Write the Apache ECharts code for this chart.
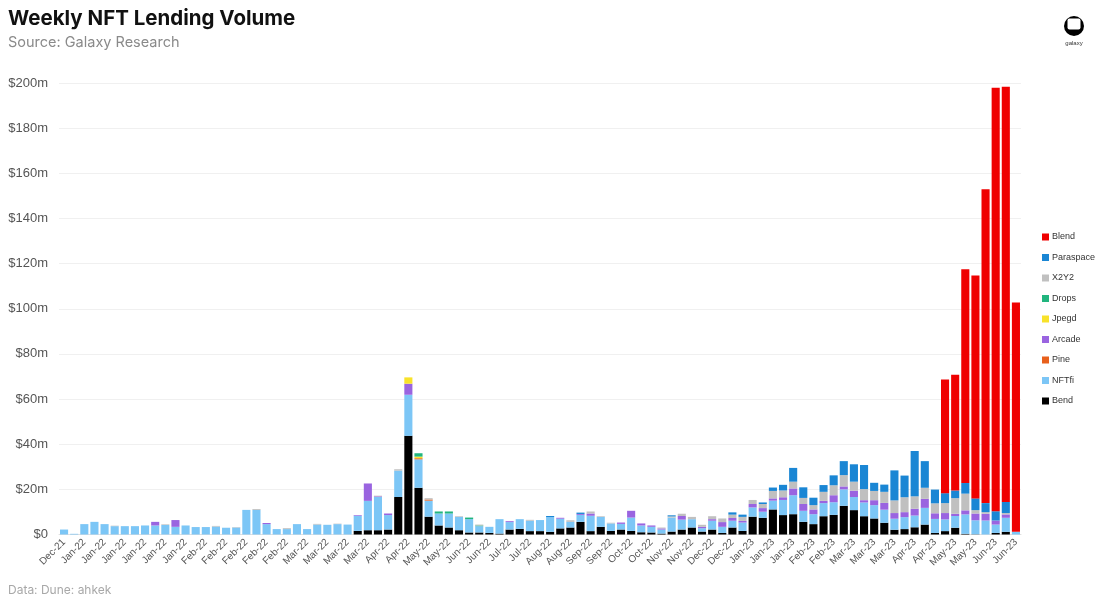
<!DOCTYPE html>
<html>
<head>
<meta charset="utf-8">
<script src="https://cdn.jsdelivr.net/npm/echarts@6/dist/echarts.min.js"></script>
<style>
html,body{margin:0;padding:0;background:#fff;}
#chart{width:1100px;height:601px;}
</style>
</head>
<body>
<div id="chart"></div>
<script>
// Tick labels (one every two weekly bars)
const tickLabels = [
  'Dec-21',
  'Jan-22','Jan-22','Jan-22','Jan-22','Jan-22','Jan-22',
  'Feb-22','Feb-22','Feb-22','Feb-22','Feb-22',
  'Mar-22','Mar-22','Mar-22','Mar-22',
  'Apr-22','Apr-22','May-22','May-22','Jun-22','Jun-22','Jul-22','Jul-22',
  'Aug-22','Aug-22','Sep-22','Sep-22','Oct-22','Oct-22','Nov-22','Nov-22',
  'Dec-22','Dec-22','Jan-23','Jan-23','Jan-23','Feb-23','Feb-23',
  'Mar-23','Mar-23','Mar-23','Apr-23','Apr-23','May-23','May-23','Jun-23','Jun-23'
];

// Weekly volumes, $m
const bend = [
  0,0,0,0,0,0,0,0,0,0,
  0,0,0,0,0,0,0,0,0,0,
  0,0,0,0,0,0,0,0,0,1.6,
  1.9,1.9,2.2,16.6,43.7,20.7,7.9,4.0,3.1,1.9,
  0.9,0.9,0.7,0.4,2.2,2.5,1.5,1.5,1.2,2.7,
  3.1,5.6,1.5,3.4,1.6,2.2,1.6,1.0,0.9,0.4,
  1.3,2.2,3.1,1.3,2.2,0.7,3.1,1.6,7.9,7.4,
  11.1,8.6,9.0,5.6,4.6,8.1,8.7,12.7,10.8,8.1,
  7.1,5.2,2.1,2.4,3.2,4.4,0.7,1.5,3.0,0.3,
  0.1,0,0.7,1.2,0
];
const nftfi = [
  2.2,0.3,4.6,5.6,4.6,3.7,3.7,3.7,4.0,4.0,
  4.2,3.4,4.0,3.3,3.3,3.5,3.0,3.1,10.9,10.9,
  4.6,2.4,2.4,4.6,2.4,4.4,4.3,4.6,4.4,6.7,
  13.0,14.7,6.4,11.7,18.2,12.6,7.1,5.3,6.2,5.9,
  5.9,2.8,2.7,6.4,3.3,4.3,4.6,4.9,6.5,4.3,
  2.5,3.1,6.8,4.4,3.3,2.5,5.9,3.0,2.5,1.8,
  6.2,4.4,3.7,1.5,3.9,2.7,3.0,3.7,4.1,2.7,
  3.9,6.7,8.4,4.9,4.4,5.8,5.6,7.3,5.8,6.1,
  5.9,5.8,4.9,5.3,5.2,7.4,6.2,5.2,5.2,8.6,
  6.2,6.2,3.7,6.2,1.2
];
const pine = [
  0,0,0,0,0,0,0,0,0,0,
  0,0,0,0,0,0,0,0,0,0,
  0,0,0,0,0,0,0,0,0,0,
  0,0,0,0,0,0.5,0.5,0,0,0,
  0,0,0,0,0,0,0,0,0,0,
  0,0,0,0,0,0,0,0,0,0,
  0,0,0,0,0,0,0,0,0,0,
  0,0,0,0,0,0,0,0,0,0,
  0,0,0,0,0,0,0,0,0,0,
  0,0,0,0,0
];
const arcade = [
  0,0,0,0,0,0,0,0,0,1.6,
  0,3.0,0,0,0,0,0,0,0,0,
  0.5,0,0,0,0,0,0,0,0,0.3,
  7.7,0.3,0.7,0,4.9,0,0,0,0,0,
  0,0,0,0,0.4,0,0,0,0,0.4,
  0,0.4,1.0,0,0,0.6,3.0,0.9,0.6,0.5,
  0,1.6,0,0.6,0.7,2.1,1.2,0.7,1.5,1.6,
  1.0,1.2,3.0,3.0,2.1,1.0,3.1,1.3,2.8,1.0,
  2.2,3.0,2.5,2.2,3.0,4.0,2.5,2.8,1.0,1.8,
  3.0,3.0,1.8,1.5,0
];
const jpegd = [
  0,0,0,0,0,0,0,0,0,0,
  0,0,0,0,0,0,0,0,0,0,
  0,0,0,0,0,0,0,0,0,0,
  0,0,0,0,2.8,0.7,0,0,0,0,
  0,0,0,0,0,0,0,0,0,0,
  0,0,0,0,0,0,0,0,0,0,
  0,0,0,0,0,0,0,0,0,0,
  0,0,0,0,0,0,0,0,0,0,
  0,0,0,0,0,0,0,0,0,0,
  0,0,0,0,0
];
const drops = [
  0,0,0,0,0,0,0,0,0,0,
  0,0,0,0,0,0,0,0,0,0,
  0,0,0,0,0,0,0,0,0,0,
  0,0,0,0,0,1.5,0,0.9,0.9,0,
  0.7,0.3,0,0,0,0,0,0,0,0,
  0,0,0,0,0,0,0,0,0,0,
  0,0,0,0,0,0,0,0,0,0,
  0,0,0,0,0,0,0,0,0,0,
  0,0,0,0,0,0,0,0,0,0,
  0,0,0,0,0
];
const x2y2 = [
  0,0,0,0,0,0.2,0,0,0,0,
  0.3,0,0,0,0,0.3,0,0.2,0,0.4,
  0,0,0.4,0,0,0.3,0,0.2,0,0,
  0,0.3,0,0.6,0,0,0.6,0,0,0.3,
  0,0.4,0,0,0,0,0.4,0,0,0,
  0.7,0,0.9,0.3,0.3,0,0,0,0,0.4,
  0.5,1.0,1.0,0.9,1.3,1.6,1.5,1.8,1.8,1.8,
  3.3,3.0,3.0,2.7,1.9,4.0,4.4,5.0,4.0,4.9,
  4.1,4.9,5.6,6.6,5.5,4.9,4.4,4.4,6.9,7.4,
  1.5,0.7,0,0.6,0
];
const paraspace = [
  0,0,0,0,0,0,0,0,0,0,
  0,0,0,0,0,0,0,0,0,0,
  0,0,0,0,0,0,0,0,0,0,
  0,0,0,0,0,0,0,0,0,0,
  0,0,0,0,0,0,0,0,0.5,0,
  0,0.6,0,0,0,0,0,0,0,0,
  0.5,0,0,0,0,0,1.0,1.0,0,0.7,
  1.5,2.5,6.1,4.7,3.3,3.0,4.4,6.2,7.7,10.7,
  3.6,3.2,13.3,9.6,20.1,11.8,6.1,4.4,3.4,4.7,
  5.2,4.0,4.1,4.9,0
];
const blend = [
  0,0,0,0,0,0,0,0,0,0,
  0,0,0,0,0,0,0,0,0,0,
  0,0,0,0,0,0,0,0,0,0,
  0,0,0,0,0,0,0,0,0,0,
  0,0,0,0,0,0,0,0,0,0,
  0,0,0,0,0,0,0,0,0,0,
  0,0,0,0,0,0,0,0,0,0,
  0,0,0,0,0,0,0,0,0,0,
  0,0,0,0,0,0,0,50.4,51.3,94.7,
  98.7,139.0,187.6,183.9,101.6
];

const categories = bend.map((_, i) => 'w' + i);

const seriesDefs = [
  ['Bend', bend, '#000000'],
  ['NFTfi', nftfi, '#7cc6f6'],
  ['Pine', pine, '#e8601c'],
  ['Arcade', arcade, '#9a64e0'],
  ['Jpegd', jpegd, '#f8e22a'],
  ['Drops', drops, '#21b57e'],
  ['X2Y2', x2y2, '#c0c0c0'],
  ['Paraspace', paraspace, '#1a86d4'],
  ['Blend', blend, '#ef0000']
];

const chart = echarts.init(document.getElementById('chart'), null, {renderer: 'canvas'});
chart.setOption({
  animation: false,
  backgroundColor: '#ffffff',
  graphic: [
    {type: 'text', left: 8, top: 8, style: {text: 'Weekly NFT Lending Volume', font: '700 20.5px Inter', fill: '#111'}},
    {type: 'text', left: 8, top: 35, style: {text: 'Source: Galaxy Research', font: '14.5px Inter', fill: '#8a8a8a'}},
    {type: 'text', left: 8, top: 584, style: {text: 'Data: Dune: ahkek', font: '12px Inter', fill: '#a8a8a8'}},
    {type: 'circle', shape: {cx: 1074, cy: 26, r: 10}, style: {fill: '#000'}},
    {type: 'rect', shape: {x: 1067.5, y: 18.5, width: 13, height: 11, r: 2}, style: {fill: '#fff'}},
    {type: 'text', x: 1074, y: 40, style: {text: 'galaxy', font: '6px "Liberation Sans"', fill: '#333', align: 'center'}}
  ],
  legend: {
    orient: 'vertical',
    left: 1037,
    top: 226,
    icon: 'rect',
    itemWidth: 7,
    itemHeight: 7,
    itemGap: 8.5,
    textStyle: {fontSize: 9, color: '#333', fontFamily: 'Liberation Sans', lineHeight: 12, padding: [0, 0, 0, -2]},
    data: ['Blend','Paraspace','X2Y2','Drops','Jpegd','Arcade','Pine','NFTfi','Bend']
  },
  grid: {left: 59, right: 79, top: 83, bottom: 66.5, containLabel: false},
  xAxis: {
    type: 'category',
    data: categories,
    axisLine: {lineStyle: {color: '#e0e0e0'}},
    axisTick: {show: false},
    axisLabel: {
      interval: 1,
      rotate: 45,
      fontSize: 10,
      color: '#555',
      fontFamily: 'Liberation Sans',
      margin: 6,
      formatter: (v, i) => tickLabels[i / 2] || ''
    }
  },
  yAxis: {
    type: 'value',
    min: 0,
    max: 200,
    interval: 20,
    axisLine: {show: false},
    axisTick: {show: false},
    splitLine: {lineStyle: {color: '#f0f0f0'}},
    axisLabel: {
      fontSize: 13,
      color: '#555',
      fontFamily: 'Liberation Sans',
      margin: 11,
      formatter: v => v === 0 ? '$0' : '$' + v + 'm'
    }
  },
  series: seriesDefs.map(([name, data, color]) => ({
    name, type: 'bar', stack: 'total', data,
    barCategoryGap: '20%',
    itemStyle: {color},
    emphasis: {disabled: true}
  }))
});
</script>
</body>
</html>
